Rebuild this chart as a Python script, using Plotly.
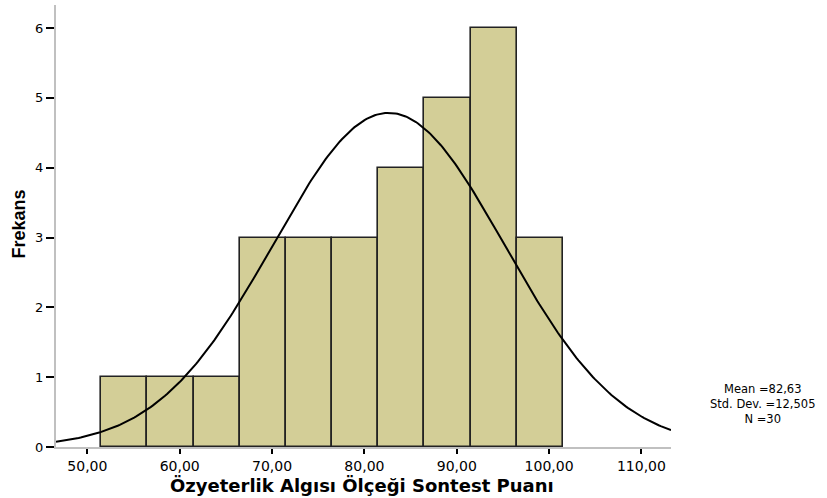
import numpy as np
import plotly.graph_objects as go

# Histogram data (bin edges from 51.5 with width 5)
bin_starts = [51.5, 56.5, 61.5, 66.5, 71.5, 76.5, 81.5, 86.5, 91.5, 96.5]
bin_width = 5
counts = [1, 1, 1, 3, 3, 3, 4, 5, 6, 3]
mean_val = 82.63
std_val = 12.505
n_val = 30
x_ticks = [50, 60, 70, 80, 90, 100, 110]
x_tick_labels = ["50,00", "60,00", "70,00", "80,00", "90,00", "100,00", "110,00"]
y_ticks = [0, 1, 2, 3, 4, 5, 6]

centers = [s + bin_width / 2 for s in bin_starts]

W, H = 827, 498
ML, MR, MT, MB = 56, 156, 5, 51
PW, PH = W - ML - MR, H - MT - MB

fig = go.Figure()
fig.add_trace(go.Bar(
    x=centers, y=counts, width=[bin_width] * len(counts),
    marker=dict(color="#D3CE97", line=dict(color="#222222", width=1.6)),
    hoverinfo="skip", showlegend=False,
))

# Normal curve from the stated mean, SD and N
xc = np.linspace(46.6, 113.2, 300)
yc = n_val * bin_width / (std_val * np.sqrt(2 * np.pi)) * np.exp(-0.5 * ((xc - mean_val) / std_val) ** 2)
fig.add_trace(go.Scatter(x=xc, y=yc, mode="lines", line=dict(color="black", width=2),
                         hoverinfo="skip", showlegend=False))

fig.update_layout(
    width=W, height=H,
    margin=dict(l=ML, r=MR, t=MT, b=MB, autoexpand=False),
    paper_bgcolor="white", plot_bgcolor="white",
    bargap=0,
    font=dict(family="DejaVu Sans, Arial, sans-serif", color="black"),
    xaxis=dict(
        range=[46.6, 113.2], tickvals=x_ticks, ticktext=x_tick_labels, automargin=False,
        showgrid=False, zeroline=False, showline=True, linecolor="#c0c0c0", linewidth=2,
        ticks="outside", ticklen=5, tickwidth=2, tickcolor="black",
        tickfont=dict(size=14, family="DejaVu Sans, Arial, sans-serif"),
    ),
    yaxis=dict(
        range=[0, 6.33], tickvals=y_ticks, automargin=False,
        showgrid=False, zeroline=False, showline=True, linecolor="#c0c0c0", linewidth=2,
        ticks="outside", ticklen=8, tickwidth=2, tickcolor="black",
        tickfont=dict(size=13, family="DejaVu Sans, Arial, sans-serif"),
    ),
)

def px_to_paper_x(px):
    return (px - ML) / PW

def px_to_paper_y(py):
    return (H - MB - py) / PH

# Axis titles
fig.add_annotation(text="<b>Özyeterlik Algısı Ölçeği Sontest Puanı</b>", xref="paper", yref="paper",
                   x=px_to_paper_x(362), y=px_to_paper_y(486), xanchor="center", yanchor="middle",
                   showarrow=False, font=dict(size=18, family="DejaVu Sans, Arial, sans-serif"))
fig.add_annotation(text="<b>Frekans</b>", xref="paper", yref="paper", textangle=-90,
                   x=px_to_paper_x(18.5), y=px_to_paper_y(224), xanchor="center", yanchor="middle",
                   showarrow=False,
                   font=dict(size=18, family="Liberation Sans Narrow, Arial Narrow, Liberation Sans, sans-serif"))

def fmt(v, d):
    return f"{v:.{d}f}".replace(".", ",")

stats_lines = [f"Mean ={fmt(mean_val, 2)}",
               f"Std. Dev. ={fmt(std_val, 3)}",
               f"N ={n_val}"]
fig.add_annotation(text="<br>".join(stats_lines), xref="paper", yref="paper", x=px_to_paper_x(762),
                   y=px_to_paper_y(404), xanchor="center", yanchor="middle", align="center",
                   showarrow=False, borderpad=0,
                   font=dict(size=11.5, family="DejaVu Sans, Arial, sans-serif", color="black"))

fig.write_html("out.html", config={"displayModeBar": False},
               post_script="document.body.style.margin='0';document.body.style.padding='0';")
